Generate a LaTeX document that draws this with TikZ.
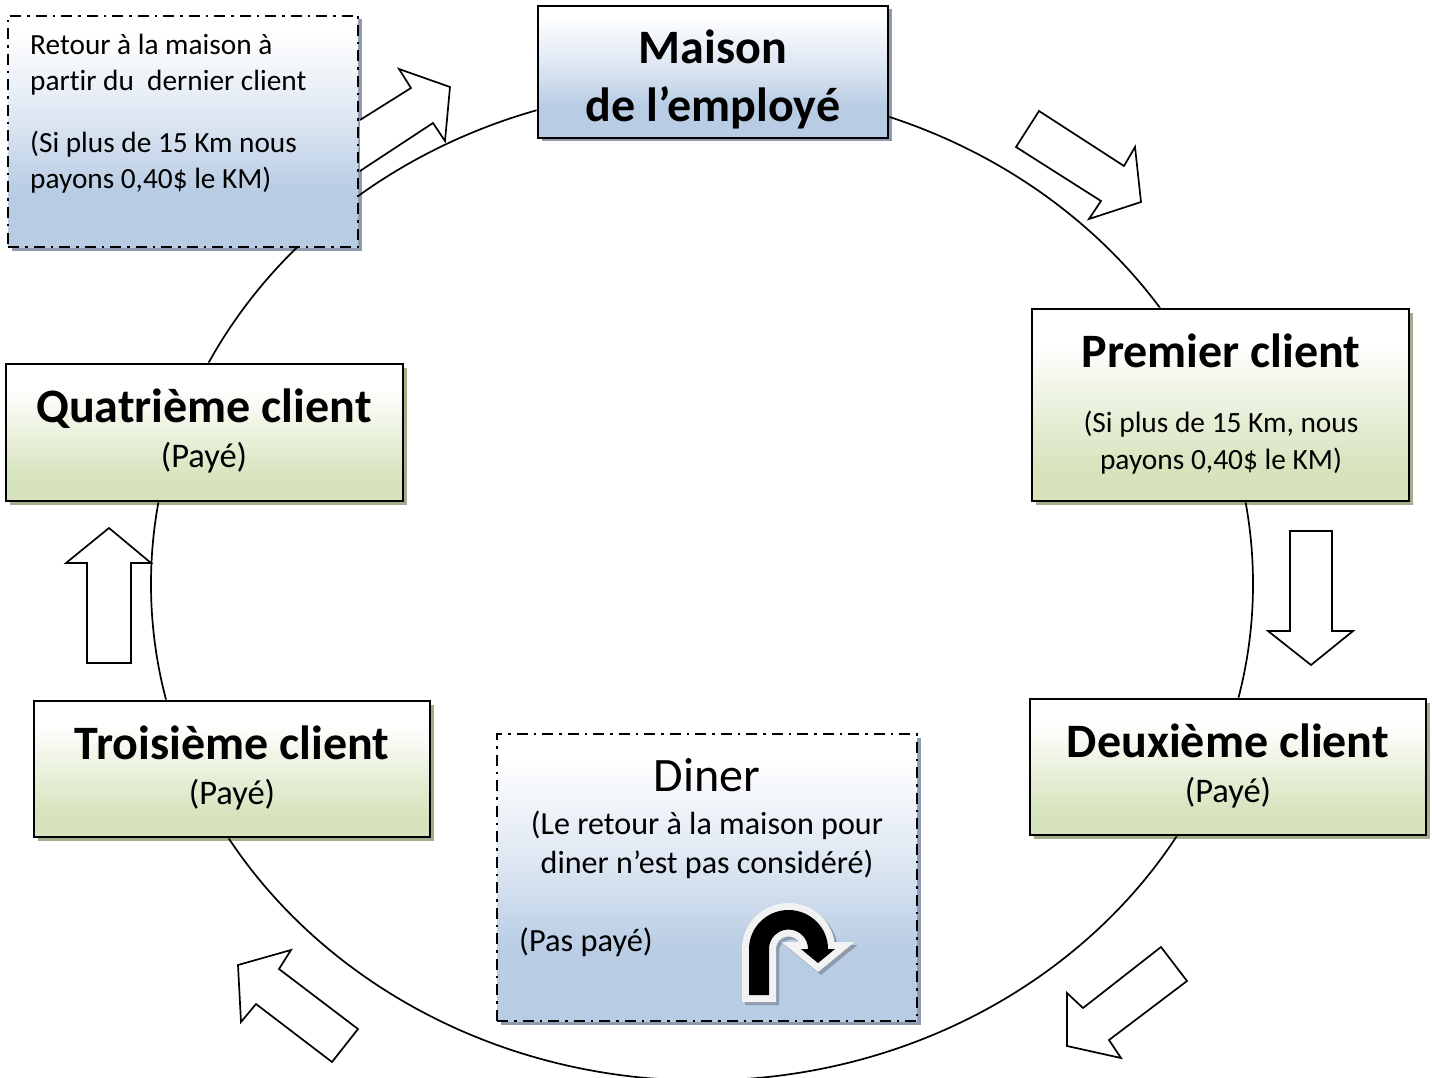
\documentclass[tikz,border=0pt]{standalone}
\usepackage{fontspec}
\setmainfont[Ligatures=NoCommon]{Carlito}
\usetikzlibrary{shadows}
\definecolor{boxblue}{HTML}{B8CCE4}
\definecolor{boxgreen}{HTML}{D6E3BC}
\definecolor{shblue}{HTML}{8E9BAE}
\definecolor{shgreen}{HTML}{A3AD8B}
\pgfdeclareverticalshading{blueramp}{100bp}{color(0bp)=(boxblue);color(37bp)=(boxblue);color(52bp)=(boxblue!50!white);color(71bp)=(white);color(100bp)=(white)}
\pgfdeclareverticalshading{greenramp}{100bp}{color(0bp)=(boxgreen);color(33bp)=(boxgreen);color(50bp)=(boxgreen!50!white);color(66bp)=(white);color(100bp)=(white)}
\tikzset{
  box/.style={rectangle,inner sep=0pt,minimum width=#1,draw=black,line width=2.6pt},
  bluebox/.style={shading=blueramp,drop shadow={shadow xshift=3.5pt,shadow yshift=-3.5pt,fill=shblue,opacity=1}},
  greenbox/.style={shading=greenramp,drop shadow={shadow xshift=3.5pt,shadow yshift=-3.5pt,fill=shgreen,opacity=1}},
  dashbox/.style={draw=black,line width=2.2pt,dash pattern=on 11pt off 6pt on 2.5pt off 6pt},
  flow/.style={draw=black,fill=white,line width=1.7pt,line join=miter},
  head/.style={font=\fontsize{48}{58}\selectfont\bfseries,inner sep=0pt,align=center,anchor=base},
  small/.style={font=\fontsize{29.4}{36.5}\selectfont,inner sep=0pt,align=center,anchor=base},
  paid/.style={font=\fontsize{34.5}{40}\selectfont,inner sep=0pt,align=center,anchor=base},
  smaller/.style={font=\fontsize{29.3}{36}\selectfont,inner sep=0pt,align=left,anchor=base west},
}
\begin{document}
\begin{tikzpicture}[x=1pt,y=-1pt]
\useasboundingbox (0,0) rectangle (1432,1078);
\clip (0,0) rectangle (1432,1078);
% arrows
\draw[flow] (1039,111)--(1124,166)--(1135,147)--(1141,202)--(1089,219)--(1101,201)--(1016,147)--cycle;
\draw[flow] (1290,531)--(1332,531)--(1332,631)--(1353,631)--(1311,665)--(1268,631)--(1290,631)--cycle;
\draw[flow] (1161,947)--(1187,981)--(1109,1040)--(1121,1058)--(1067,1046)--(1067,993)--(1083,1008)--cycle;
\draw[flow] (358,1029)--(332,1062)--(256,1004)--(241,1022)--(238,965)--(291,950)--(279,969)--cycle;
\draw[flow] (87,563)--(87,663)--(131,663)--(131,563)--(151,563)--(109,528)--(66,563)--cycle;
% boxes
\node[box=350pt,minimum height=132pt,bluebox] (home) at (713,72) {};
\node[box=350pt,minimum height=231pt,bluebox,dashbox] (last) at (183,131.5) {};
\node[box=377pt,minimum height=192pt,greenbox] (first) at (1220.5,405) {};
\node[box=396pt,minimum height=136pt,greenbox] (second) at (1228,767) {};
\node[box=396pt,minimum height=136pt,greenbox] (third) at (232,769) {};
\node[box=397pt,minimum height=137pt,greenbox] (fourth) at (204.5,432.5) {};
\node[box=420pt,minimum height=287pt,bluebox,dashbox] (diner) at (707,877.5) {};
% ring, outside the boxes
\begin{scope}[even odd rule]
\clip (0,0) rectangle (1432,1078)
  (home.south west) rectangle (home.north east)
  (last.south west) rectangle (last.north east)
  (first.south west) rectangle (first.north east)
  (second.south west) rectangle (second.north east)
  (third.south west) rectangle (third.north east)
  (fourth.south west) rectangle (fourth.north east);
\draw[black,line width=1.7pt] (702,584) ellipse [x radius=551,y radius=496.5];
\end{scope}
\draw[flow] (360,120)--(411,88)--(399,69)--(450,87)--(445,141)--(433,123)--(360,171);
% texts
\node[head] (homeT) at (713,122) {Maison\\de l’employé};
\node[smaller] (lastA) at (30,91) {Retour à la maison à\\partir du\ \ dernier client};
\node[smaller] (lastB) at (30,189) {(Si plus de 15 Km nous\\payons 0,40\$ le KM)};
\node[head] (firstT) at (1221,367) {Premier client};
\node[small] (firstS) at (1221,469) {(Si plus de 15 Km, nous\\payons 0,40\$ le KM)};
\node[head] (secondT) at (1228,757) {Deuxième client};
\node[paid] (secondS) at (1228,802) {(Payé)};
\node[head] (thirdT) at (232,759) {Troisième client};
\node[paid] (thirdS) at (232,804) {(Payé)};
\node[head] (fourthT) at (204,422) {Quatrième client};
\node[paid] (fourthS) at (204,467) {(Payé)};
\node[font=\fontsize{48}{50}\selectfont,inner sep=0pt,anchor=base] (dinerT) at (707,791) {Diner};
\node[small,font=\fontsize{32.1}{38.5}\selectfont] (dinerS) at (707,873) {(Le retour à la maison pour\\diner n’est pas considéré)};
\node[small,font=\fontsize{32.4}{38}\selectfont,anchor=base west] (dinerP) at (519,951) {(Pas payé)};
% u-turn
\def\uturn{(749,995)--(749,949) arc[start angle=180,end angle=360,x radius=39.5,y radius=39]--(835,949)--(818,963)--(801,949)--(808,949) arc[start angle=360,end angle=180,x radius=19.5,y radius=19.5]--(769,995)--cycle}
\fill[shblue,draw=shblue,line width=14pt,line join=miter,miter limit=3,shift={(3,3)}] \uturn;
\draw[draw=black!5,fill=black,line width=14pt,line join=miter,miter limit=3] \uturn;
\fill[black] \uturn;
\end{tikzpicture}
\end{document}
